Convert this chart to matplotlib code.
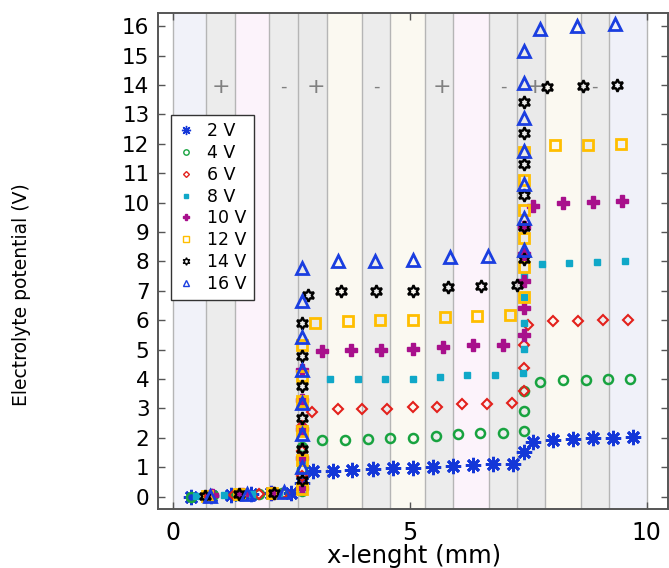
import matplotlib
matplotlib.use("Agg")
import matplotlib.pyplot as plt

# geometry stripes behind the plot (x in mm)
band_edges = [0.0, 0.70, 1.31, 2.03, 2.64, 3.26, 3.99, 4.58, 5.32, 5.91, 6.68, 7.27, 7.85, 8.61, 9.20, 10.0]
band_colors = ['#f1f2f9', '#ececec', '#fcf3fb', '#ececec', '#eaeaea', '#fbf9f1', '#ececec',
               '#fbf9f1', '#ececec', '#fcf3fb', '#ececec', '#eaeaea', '#fbf9f1', '#ececec', '#f0f1f9']

# electrode polarity signs
sign_x = [1.01, 2.33, 3.02, 4.30, 5.68, 6.97, 7.64, 8.90]
sign_txt = ['+', '-', '+', '-', '+', '-', '+', '-']
sign_y = 13.95

labels = ['2 V', '4 V', '6 V', '8 V', '10 V', '12 V', '14 V', '16 V']

x_2v = [0.39, 0.81, 1.23, 1.65, 2.08, 2.50, 2.72, 2.96, 3.38, 3.78, 4.22, 4.65, 5.07, 5.49, 5.91,
        6.33, 6.76, 7.18, 7.41, 7.60, 8.02, 8.44, 8.86, 9.28, 9.71]
y_2v = [0.0, 0.03, 0.06, 0.09, 0.11, 0.13, 0.45, 0.86, 0.88, 0.89, 0.93, 0.96, 0.98, 0.99, 1.05,
        1.08, 1.11, 1.12, 1.50, 1.87, 1.93, 1.97, 1.98, 2.00, 2.03]

x_4v = [0.38, 0.86, 1.34, 1.82, 2.30, 2.72, 2.72, 2.72, 3.15, 3.64, 4.12, 4.59, 5.07, 5.55, 6.03,
        6.48, 6.96, 7.41, 7.41, 7.41, 7.75, 8.23, 8.72, 9.19, 9.64]
y_4v = [0.0, 0.04, 0.07, 0.10, 0.12, 0.20, 0.95, 1.70, 1.93, 1.91, 1.96, 2.00, 2.00, 2.05, 2.14,
        2.17, 2.17, 2.22, 2.90, 3.58, 3.89, 3.98, 3.98, 4.00, 4.01]

x_6v = [0.76, 1.29, 1.82, 2.35, 2.72, 2.72, 2.72, 2.95, 3.49, 4.00, 4.53, 5.07, 5.58, 6.11, 6.63,
        7.17, 7.41, 7.41, 7.41, 7.50, 8.02, 8.55, 9.08, 9.61]
y_6v = [0.03, 0.07, 0.10, 0.12, 0.70, 1.55, 2.40, 2.88, 2.98, 2.98, 2.98, 3.04, 3.04, 3.14, 3.14,
        3.18, 3.60, 4.38, 5.17, 5.85, 5.96, 5.96, 6.00, 6.02]

x_8v = [0.50, 1.08, 1.67, 2.25, 2.72, 2.72, 2.72, 2.72, 3.32, 3.91, 4.49, 5.07, 5.64, 6.22, 6.81,
        7.39, 7.41, 7.41, 7.41, 7.41, 7.80, 8.37, 8.95, 9.54]
y_8v = [0.01, 0.05, 0.09, 0.12, 0.35, 1.25, 2.20, 3.15, 4.00, 4.00, 4.00, 4.01, 4.07, 4.14, 4.14,
        4.20, 5.02, 5.90, 6.78, 7.55, 7.92, 7.96, 7.98, 8.02]

x_10v = [0.84, 1.47, 2.10, 2.72, 2.72, 2.72, 2.72, 2.72, 3.16, 3.77, 4.40, 5.07, 5.70, 6.33, 6.97,
         7.41, 7.41, 7.41, 7.41, 7.41, 7.61, 8.23, 8.86, 9.49]
y_10v = [0.04, 0.08, 0.12, 0.30, 1.30, 2.30, 3.30, 4.30, 4.94, 4.97, 4.99, 5.02, 5.08, 5.15, 5.17,
         5.51, 6.41, 7.34, 8.26, 9.17, 9.87, 9.98, 10.02, 10.04]

x_12v = [0.72, 1.41, 2.10, 2.72, 2.72, 2.72, 2.72, 2.72, 2.72, 3.00, 3.70, 4.37, 5.07, 5.74, 6.43,
         7.11, 7.41, 7.41, 7.41, 7.41, 7.41, 7.41, 8.07, 8.76, 9.45]
y_12v = [0.03, 0.08, 0.12, 0.26, 1.24, 2.22, 3.24, 4.11, 5.17, 5.90, 5.96, 6.00, 6.00, 6.10, 6.16,
         6.18, 6.80, 7.80, 8.79, 9.75, 10.78, 11.74, 11.96, 11.96, 12.00]

x_14v = [0.68, 1.41, 2.14, 2.72, 2.72, 2.72, 2.72, 2.72, 2.72, 2.85, 3.55, 4.30, 5.07, 5.81, 6.51,
         7.27, 7.41, 7.41, 7.41, 7.41, 7.41, 7.41, 7.90, 8.65, 9.37]
y_14v = [0.02, 0.08, 0.13, 0.56, 1.62, 2.67, 3.75, 4.79, 5.90, 6.87, 6.98, 6.98, 6.98, 7.13, 7.17,
         7.20, 8.07, 9.17, 10.26, 11.30, 12.36, 13.43, 13.94, 13.97, 14.00]

x_16v = [0.78, 1.57, 2.36, 2.72, 2.72, 2.72, 2.72, 2.72, 2.72, 2.72, 3.48, 4.27, 5.07, 5.85, 6.65,
         7.41, 7.41, 7.41, 7.41, 7.41, 7.41, 7.41, 7.75, 8.54, 9.34]
y_16v = [0.02, 0.10, 0.14, 1.00, 2.13, 3.18, 4.32, 5.43, 6.64, 7.77, 8.00, 8.00, 8.05, 8.15, 8.20,
         8.40, 9.47, 10.64, 11.75, 12.87, 14.06, 15.17, 15.90, 16.00, 16.07]

xs = [x_2v, x_4v, x_6v, x_8v, x_10v, x_12v, x_14v, x_16v]
ys = [y_2v, y_4v, y_6v, y_8v, y_10v, y_12v, y_14v, y_16v]

# marker styles for each series (marker, colour, size, filled, edge width)
styles = [
    ((8, 2, 0), '#1437d8', 11, True, 2.0),
    ('o', '#18a340', 6.5, False, 1.8),
    ('D', '#e3211c', 5, False, 1.5),
    ('s', '#10a8c8', 5, True, 1.0),
    ('P', '#a8108c', 8, True, 1.0),
    ('s', '#ffbe00', 7, False, 2.0),
    ((6, 1, 0), 'black', 9, False, 1.7),
    ('^', '#1a3ee0', 8, False, 2.0),
]

fig = plt.figure(figsize=(6.69, 5.68), dpi=100)
ax = fig.add_axes([0.236, 0.104, 0.7625, 0.873])

for i in range(len(band_colors)):
    ax.axvspan(band_edges[i], band_edges[i + 1], color=band_colors[i], lw=0, zorder=0)
for e in band_edges:
    ax.axvline(e, color='#b5b5b5', lw=1, zorder=0.5)

for sx, st in zip(sign_x, sign_txt):
    ax.text(sx, sign_y, st, color='#808080', fontsize=16 if st == '+' else 13,
            ha='center', va='center', zorder=1)

for x, y, lab, (m, c, ms, filled, mew) in zip(xs, ys, labels, styles):
    ax.plot(x, y, ls='none', marker=m, markersize=ms, markeredgewidth=mew,
            markeredgecolor=c, markerfacecolor=c if filled else 'none',
            label=lab, zorder=3)

ax.set_xlim(-0.31, 10.45)
ax.set_ylim(-0.42, 16.45)
ax.set_xticks([0, 5, 10])
ax.set_yticks(range(0, 17))

ax.tick_params(axis='both', direction='in', top=True, right=True, length=5, width=1,
               color='#555555')
ax.tick_params(axis='x', labelsize=17, pad=9)
ax.tick_params(axis='y', labelsize=15.5, pad=6)
for s in ax.spines.values():
    s.set_color('#555555')
    s.set_linewidth(1.4)

ax.set_xlabel('x-lenght (mm)', fontsize=17.5, va='center')
ax.xaxis.set_label_coords(0.502, -0.095)
ax.set_ylabel('Electrolyte potential (V)', fontsize=13.5, va='center')
ax.yaxis.set_label_coords(-0.267, 0.433)

leg = ax.legend(loc='upper left', bbox_to_anchor=(0.025, 0.794), borderaxespad=0,
                fontsize=12.5, markerscale=0.6, handlelength=1.0, handletextpad=0.7,
                labelspacing=0.22, borderpad=0.4, fancybox=False, framealpha=1)
leg.get_frame().set_edgecolor('#333333')
leg.get_frame().set_linewidth(1.0)
for h in leg.legend_handles:
    h.set_markeredgewidth(1.0)

fig.savefig('out.png', dpi=100)
